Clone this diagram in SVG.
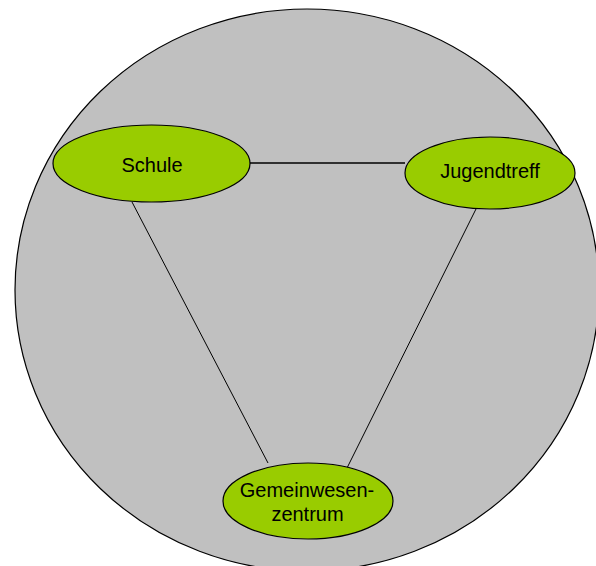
<svg xmlns="http://www.w3.org/2000/svg" width="596" height="566" viewBox="0 0 596 566">
<style>
.node{fill:#99CC00;stroke:#000;stroke-width:1.2}
.lbl{font-family:"Liberation Sans",Arial,sans-serif;font-size:20px;fill:#000;text-anchor:middle}
.conn line{stroke:#000;stroke-width:1}
</style>
<rect width="596" height="566" fill="#fff"/>
<g id="background">
<ellipse cx="307" cy="290" rx="292" ry="281" fill="#C0C0C0" stroke="#000" stroke-width="1.2"/>
</g>
<g class="conn" id="connectors">
<line x1="250" y1="163" x2="405" y2="163" style="stroke-width:1.5"/>
<line x1="132" y1="202" x2="268" y2="463"/>
<line x1="476" y1="209" x2="347" y2="468"/>
</g>
<g id="schule">
<ellipse class="node" cx="151.5" cy="163.5" rx="98.5" ry="38.5"/>
<text class="lbl" x="152" y="172">Schule</text>
</g>
<g id="jugendtreff">
<ellipse class="node" cx="490" cy="173" rx="85" ry="36"/>
<text class="lbl" x="490" y="178">Jugendtreff</text>
</g>
<g id="gemeinwesenzentrum">
<ellipse class="node" cx="308" cy="501" rx="85" ry="38"/>
<text class="lbl" x="307" y="497">Gemeinwesen-</text>
<text class="lbl" x="307.5" y="521">zentrum</text>
</g>
</svg>
